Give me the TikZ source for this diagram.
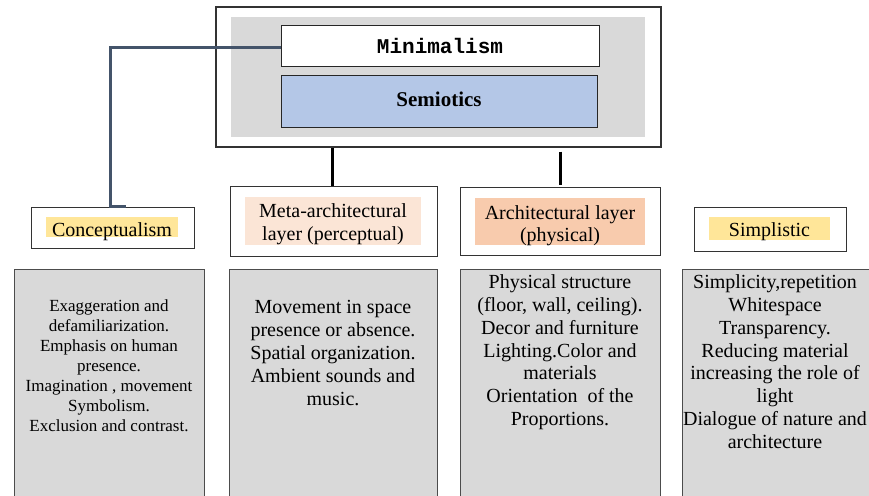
\documentclass[tikz,border=0pt]{standalone}
\usepackage{fontspec}
\setmainfont{Liberation Serif}
\setmonofont{Liberation Mono}
\usetikzlibrary{positioning}
\definecolor{panelgray}{HTML}{D9D9D9}
\definecolor{semblue}{HTML}{B4C7E7}
\definecolor{hlyellow}{HTML}{FFE699}
\definecolor{hlpeach}{HTML}{FBE5D6}
\definecolor{hlorange}{HTML}{F8CBAD}
\definecolor{slate}{HTML}{44546A}

\begin{document}
\begin{tikzpicture}[
    x=1pt, y=-1pt,
    framebox/.style={rectangle, draw=black!80, line width=1.2pt, fill=white, inner sep=0pt},
    headbox/.style={rectangle, draw=black!85, line width=0.9pt, inner sep=0pt},
    highlight/.style={rectangle, inner sep=0pt},
    taglabel/.style={inner sep=0pt, font=\fontsize{20}{22.5}\selectfont, align=center},
    detail/.style={rectangle, draw=black!70, line width=0.9pt, fill=panelgray, inner sep=0pt},
    body/.style={inner sep=0pt, align=center, font=\fontsize{20}{22.8}\selectfont},
    link/.style={slate, line width=3pt},
    stem/.style={black, line width=3pt}
]
\useasboundingbox (0,0) rectangle (869,495);

% Bloque superior
\node[framebox, minimum width=445, minimum height=140] (top) at (438.5,77) {};
\node[fill=panelgray, minimum width=414, minimum height=120, inner sep=0pt] (back) at (438,77) {};
\node[headbox, fill=white, minimum width=318, minimum height=41,
      font=\fontsize{21}{24}\selectfont\ttfamily\bfseries] (mini) at (440,45.5) {Minimalism};
\node[headbox, fill=semblue, minimum width=316, minimum height=52, text depth=4pt,
      font=\fontsize{21}{24}\selectfont\bfseries] (semi) at (439,101) {Semiotics};

% Titulos de capas
\node[framebox, line width=0.9pt, minimum width=163, minimum height=41] (concept) at (112.5,227.5) {};
\node[highlight, fill=hlyellow, minimum width=132, minimum height=20] (concepthl) at (112,227) {};
\node[taglabel] (conceptlbl) at ([yshift=-5pt]concepthl.center) {Conceptualism};

\node[framebox, line width=0.9pt, minimum width=207, minimum height=70] (meta) at (333.5,221) {};
\node[highlight, fill=hlpeach, minimum width=176, minimum height=48] (metahl) at (333,221) {};
\node[taglabel] (metalbl) at ([yshift=-3pt]metahl.center) {Meta-architectural\\layer (perceptual)};

\node[framebox, line width=0.9pt, minimum width=200, minimum height=68] (arch) at (560,221) {};
\node[highlight, fill=hlorange, minimum width=170, minimum height=47] (archhl) at (560,221.5) {};
\node[taglabel] (archlbl) at ([yshift=-4pt]archhl.center) {Architectural layer\\(physical)};

\node[framebox, line width=0.9pt, minimum width=152, minimum height=44] (simp) at (770,229) {};
\node[highlight, fill=hlyellow, minimum width=121, minimum height=23] (simphl) at (769.5,228.5) {};
\node[taglabel] (simplbl) at ([yshift=-3pt]simphl.center) {Simplistic};

% Cajas de detalle
\node[detail, minimum width=190, minimum height=240] (d1) at (109,389) {};
\node[detail, minimum width=208, minimum height=240] (d2) at (333,389) {};
\node[detail, minimum width=200, minimum height=240] (d3) at (560,389) {};
\node[detail, minimum width=198, minimum height=240] (d4) at (781,389) {};

\node[body, font=\fontsize{17}{20}\selectfont, anchor=north] (t1) at ([yshift=-31pt]d1.north)
  {Exaggeration and\\defamiliarization.\\Emphasis on human\\presence.\\Imagination , movement\\Symbolism.\\Exclusion and contrast.};
\node[body, anchor=north] (t2) at ([yshift=-32pt]d2.north)
  {Movement in space\\presence or absence.\\Spatial organization.\\Ambient sounds and\\music.};
\node[body, anchor=north] (t3) at ([yshift=-6pt]d3.north)
  {Physical structure\\(floor, wall, ceiling).\\Decor and furniture\\Lighting.Color and\\materials\\Orientation~ of the\\Proportions.};
\node[body, anchor=north] (t4) at ([xshift=-6pt,yshift=-6pt]d4.north)
  {Simplicity,repetition\\Whitespace\\Transparency.\\Reducing material\\increasing the role of\\light\\Dialogue of nature and\\architecture};

% Conectores
\draw[link] ([yshift=-2.5pt]mini.west) -| ([xshift=-2.5pt]concept.north) -- ([xshift=13.5pt]concept.north);
\draw[stem] ([xshift=-1.5pt]top.south -| meta.north) -- ([xshift=-1.5pt]meta.north);
\draw[stem] ([yshift=-4pt]top.south -| arch.north) -- ([yshift=2pt]arch.north);

\end{tikzpicture}
\end{document}
